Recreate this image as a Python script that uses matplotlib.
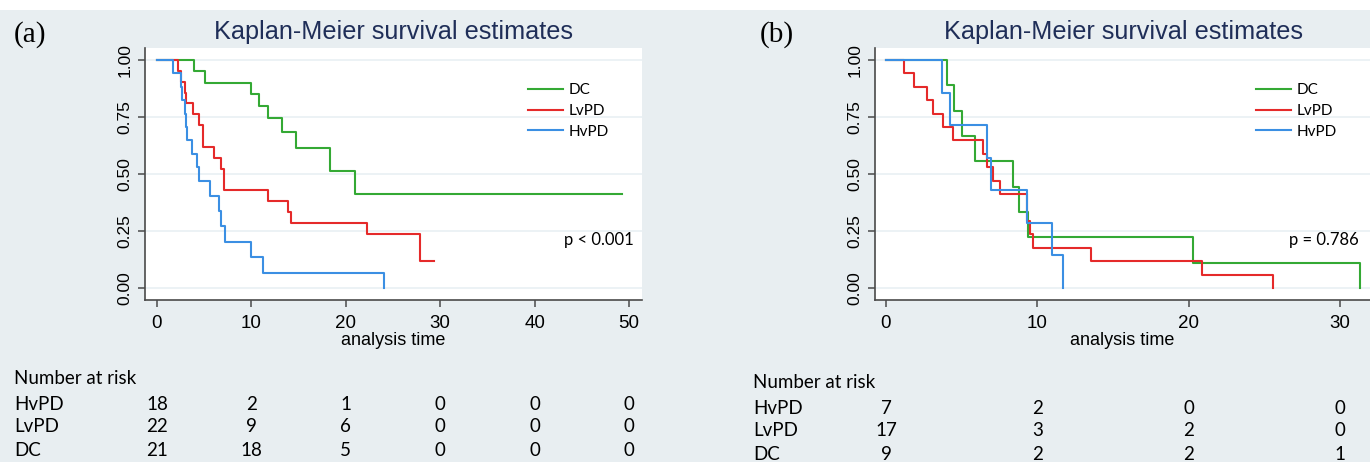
import matplotlib
matplotlib.use('Agg')
import matplotlib.pyplot as plt
from matplotlib.patches import Rectangle

# ---- panel (a): Kaplan-Meier curves (times, survival) ----
a_dc_t = [3.96, 5.09, 10.0, 10.85, 11.73, 13.29, 14.73, 18.37, 20.99]
a_dc_s = [0.950, 0.900, 0.850, 0.800, 0.747, 0.686, 0.616, 0.514, 0.412]
a_dc_end = 49.3

a_lv_t = [2.25, 2.55, 3.0, 3.1, 3.85, 4.45, 4.9, 6.0, 6.75, 7.13, 11.75, 13.85, 14.15, 22.3, 27.9]
a_lv_s = [0.952, 0.905, 0.857, 0.811, 0.762, 0.714, 0.619, 0.571, 0.524, 0.429, 0.381, 0.333, 0.286, 0.238, 0.119]
a_lv_end = 29.3

a_hv_t = [1.73, 2.54, 2.69, 2.97, 3.07, 3.22, 3.75, 4.28, 4.42, 5.62, 6.61, 6.75, 7.21, 9.96, 11.27, 24.0]
a_hv_s = [0.942, 0.883, 0.825, 0.764, 0.705, 0.650, 0.588, 0.530, 0.470, 0.404, 0.336, 0.270, 0.201, 0.134, 0.066, 0.0]
a_hv_end = 24.0

# ---- panel (b) ----
b_dc_t = [4.01, 4.5, 5.0, 5.9, 8.4, 8.82, 9.38, 20.3, 31.3]
b_dc_s = [0.889, 0.778, 0.667, 0.556, 0.444, 0.333, 0.222, 0.111, 0.0]
b_dc_end = 31.3

b_lv_t = [1.19, 1.85, 2.69, 3.09, 3.77, 4.45, 6.39, 6.65, 7.1, 7.53, 9.3, 9.52, 9.74, 13.55, 20.9, 25.6]
b_lv_s = [0.941, 0.882, 0.824, 0.765, 0.706, 0.647, 0.588, 0.529, 0.471, 0.412, 0.294, 0.235, 0.176, 0.118, 0.059, 0.0]
b_lv_end = 25.6

b_hv_t = [3.68, 4.2, 6.7, 6.92, 9.3, 11.0, 11.73]
b_hv_s = [0.857, 0.714, 0.571, 0.429, 0.286, 0.143, 0.0]
b_hv_end = 11.73

# number at risk tables
groups = ['HvPD', 'LvPD', 'DC']
a_risk_times = [0, 10, 20, 30, 40, 50]
a_risk = [[18, 2, 1, 0, 0, 0],
          [22, 9, 6, 0, 0, 0],
          [21, 18, 5, 0, 0, 0]]
b_risk_times = [0, 10, 20, 30]
b_risk = [[7, 2, 0, 0],
          [17, 3, 2, 0],
          [9, 2, 2, 1]]

a_pval = 'p < 0.001'
b_pval = 'p = 0.786'

colors = {'DC': '#34a934', 'LvPD': '#e52a2a', 'HvPD': '#3b8fe3'}
BG = '#e8eef1'
TITLE_C = '#1f2e58'
W, H = 1370, 462

fig = plt.figure(figsize=(13.7, 4.62), dpi=100, facecolor=BG)
fig.patches.append(Rectangle((0, 1 - 10 / H), 1, 10 / H, transform=fig.transFigure,
                             facecolor='white', edgecolor='none', zorder=0))


def km(ax, t, s, end, color, label):
    xs = [0] + list(t)
    ys = [1.0] + list(s)
    if end > xs[-1]:
        xs.append(end)
        ys.append(ys[-1])
    ax.step(xs, ys, where='post', color=color, lw=1.5, label=label)


def setup_axes(rect, xlim, xticks):
    ax = fig.add_axes(rect)
    ax.set_facecolor('white')
    ax.set_xlim(*xlim)
    ax.set_ylim(-0.0526, 1.0526)
    ax.set_yticks([0, 0.25, 0.5, 0.75, 1.0])
    ax.set_yticklabels(['0.00', '0.25', '0.50', '0.75', '1.00'], rotation=90, va='center',
                       family='Liberation Sans', fontsize=12.5)
    ax.set_xticks(xticks)
    ax.set_xticklabels([str(v) for v in xticks], family='Liberation Sans', fontsize=13.5)
    for sp in ['top', 'right']:
        ax.spines[sp].set_visible(False)
    for sp in ['left', 'bottom']:
        ax.spines[sp].set_color('#4a4a4a')
        ax.spines[sp].set_linewidth(1.2)
    ax.tick_params(direction='out', length=5, width=1.1, color='#4a4a4a', pad=4)
    ax.tick_params(axis='x', pad=6)
    ax.grid(axis='y', color='#e9f0f3', lw=1.2)
    ax.set_axisbelow(True)
    return ax


def panel(left_px, right_px, xlim, xticks, curves, pval, pval_x, letter, letter_x,
          title_x, risk_times, risk, label_x, risk_y):
    ax = setup_axes([left_px / W, 1 - 300 / H, (right_px - left_px) / W, 252 / H], xlim, xticks)
    for t, s, end, name in curves:
        km(ax, t, s, end, colors[name], name)
    h, l = ax.get_legend_handles_labels()
    ax.legend(h, l, loc='upper left', bbox_to_anchor=((right_px - 114) / W, 1 - 83 / H),
              bbox_transform=fig.transFigure, frameon=False, borderpad=0, borderaxespad=0,
              handlelength=2.3, handletextpad=0.35, labelspacing=0.45,
              prop={'family': 'Lato', 'size': 11})
    fig.text(pval_x / W, 1 - 240 / H, pval, ha='right', va='center', family='Lato', fontsize=12)
    fig.text(letter_x / W, 1 - 35 / H, letter, ha='left', va='center',
             family='Liberation Serif', fontsize=21)
    fig.text(title_x / W, 1 - 32 / H, 'Kaplan-Meier survival estimates', ha='center', va='center',
             family='Liberation Sans', fontsize=18.2, color=TITLE_C)
    ax.set_xlabel('analysis time', family='Liberation Sans', fontsize=13, labelpad=0)
    # number at risk
    fig.text(label_x / W, 1 - risk_y[0] / H, 'Number at risk', ha='left', va='center',
             family='Lato', fontsize=13.5)
    for i, g in enumerate(groups):
        y = 1 - risk_y[i + 1] / H
        fig.text(label_x / W, y, g, ha='left', va='center', family='Lato', fontsize=13.5)
        for tt, n in zip(risk_times, risk[i]):
            xf = fig.transFigure.inverted().transform(ax.transData.transform((tt, 0)))[0]
            fig.text(xf, y, str(n), ha='center', va='center', family='Lato', fontsize=13.5)
    return ax


panel(145, 642, (-1.27, 51.38), [0, 10, 20, 30, 40, 50],
      [(a_dc_t, a_dc_s, a_dc_end, 'DC'), (a_lv_t, a_lv_s, a_lv_end, 'LvPD'),
       (a_hv_t, a_hv_s, a_hv_end, 'HvPD')],
      a_pval, 634, '(a)', 14, 394, a_risk_times, a_risk, 14, [378, 404, 427, 450])

panel(875, 1370, (-0.727, 31.99), [0, 10, 20, 30],
      [(b_dc_t, b_dc_s, b_dc_end, 'DC'), (b_lv_t, b_lv_s, b_lv_end, 'LvPD'),
       (b_hv_t, b_hv_s, b_hv_end, 'HvPD')],
      b_pval, 1359, '(b)', 760, 1123, b_risk_times, b_risk, 753, [383, 408, 431, 455])

fig.savefig('out.png', dpi=100, facecolor=BG)
